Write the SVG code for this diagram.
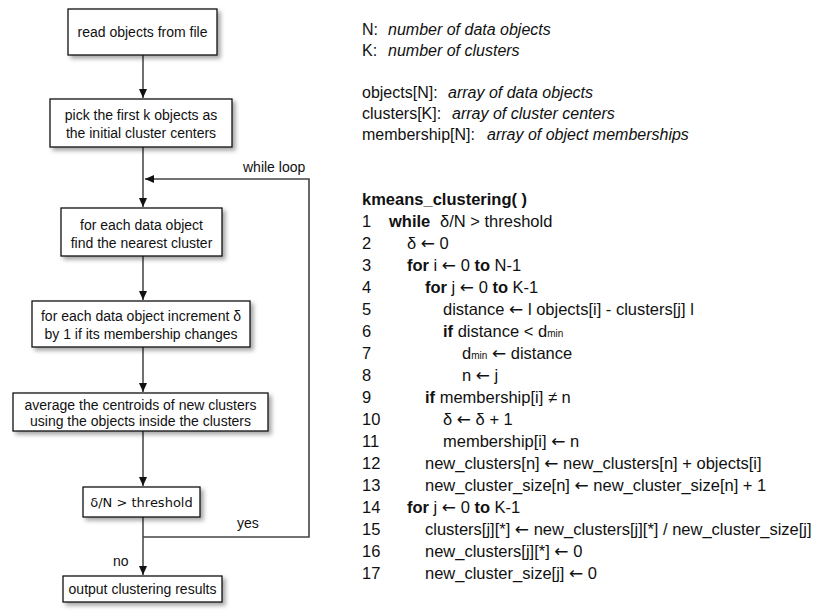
<svg xmlns="http://www.w3.org/2000/svg" width="819" height="613" viewBox="0 0 819 613">
<defs>
<filter id="sh" x="-10%" y="-20%" width="130%" height="160%">
<feDropShadow dx="3" dy="3" stdDeviation="2" flood-color="#000" flood-opacity="0.35"/>
</filter>
<marker id="ah" markerUnits="userSpaceOnUse" markerWidth="10" markerHeight="8" refX="9" refY="4" orient="auto">
<path d="M0,0 L9,4 L0,8 z" fill="#111"/>
</marker>
</defs>
<style>
.box{fill:#fff;stroke:#111;stroke-width:1.3;filter:url(#sh)}
.ft{font-family:"Liberation Sans",Arial,sans-serif;font-size:14px;fill:#111;text-anchor:middle}
.dv{font-family:"DejaVu Sans",sans-serif;font-size:13px;fill:#111;text-anchor:middle}
.lbl{font-family:"Liberation Sans",Arial,sans-serif;font-size:14px;fill:#111}
.cn{fill:none;stroke:#111;stroke-width:1.2}
.lp{fill:none;stroke:#444;stroke-width:1.6}
.tx{font-family:"Liberation Sans",Arial,sans-serif;font-size:16px;fill:#111}
.cd{font-family:"Liberation Sans",Arial,sans-serif;font-size:16.5px;fill:#111}
.it{font-style:italic}
.b{font-weight:bold}
.sub{font-size:10px}
.ar{font-family:"DejaVu Sans",sans-serif;font-size:17px}
</style>
<rect width="819" height="613" fill="#fff"/>
<g id="connectors">
<line class="cn" x1="143" y1="55" x2="143" y2="98" marker-end="url(#ah)"/>
<line class="cn" x1="143" y1="147" x2="143" y2="207" marker-end="url(#ah)"/>
<line class="cn" x1="143" y1="256" x2="143" y2="300" marker-end="url(#ah)"/>
<line class="cn" x1="143" y1="347" x2="143" y2="392" marker-end="url(#ah)"/>
<line class="cn" x1="143" y1="431" x2="143" y2="486" marker-end="url(#ah)"/>
<line class="cn" x1="143" y1="517" x2="143" y2="575" marker-end="url(#ah)"/>
<polyline class="lp" points="143,537 309,537 309,179 145,179" marker-end="url(#ah)"/>
<text class="lbl" x="243" y="172">while loop</text>
<text class="lbl" x="237" y="528">yes</text>
<text class="lbl" x="113" y="566">no</text>
</g>
<g id="n1">
<rect class="box" x="68" y="9" width="149" height="46"/>
<text class="ft" x="142.5" y="37">read objects from file</text>
</g>
<g id="n2">
<rect class="box" x="50" y="99" width="182" height="48"/>
<text class="ft" x="141" y="120">pick the first k objects as</text>
<text class="ft" x="141" y="138">the initial cluster centers</text>
</g>
<g id="n3">
<rect class="box" x="61" y="208" width="161" height="48"/>
<text class="ft" x="141.5" y="230">for each data object</text>
<text class="ft" x="141.5" y="248">find the nearest cluster</text>
</g>
<g id="n4">
<rect class="box" x="32" y="301" width="218" height="46"/>
<text class="ft" x="141" y="321">for each data object increment δ</text>
<text class="ft" x="141" y="339">by 1 if its membership changes</text>
</g>
<g id="n5">
<rect class="box" x="13" y="393" width="255" height="38"/>
<text class="ft" x="140.5" y="410">average the centroids of new clusters</text>
<text class="ft" x="140.5" y="426">using the objects inside the clusters</text>
</g>
<g id="n6">
<rect class="box" x="83" y="487" width="117" height="30"/>
<text class="dv" x="141.5" y="507">δ/N &gt; threshold</text>
</g>
<g id="n7">
<rect class="box" x="63" y="576" width="159" height="26"/>
<text class="ft" x="142.5" y="594">output clustering results</text>
</g>
<g id="legend">
<text class="tx" x="362" y="35">N:</text><text class="tx it" x="388" y="35">number of data objects</text>
<text class="tx" x="362" y="56">K:</text><text class="tx it" x="388" y="56">number of clusters</text>
<text class="tx" x="362" y="98">objects[N]:</text><text class="tx it" x="448" y="98">array of data objects</text>
<text class="tx" x="362" y="119">clusters[K]:</text><text class="tx it" x="452" y="119">array of cluster centers</text>
<text class="tx" x="362" y="140">membership[N]:</text><text class="tx it" x="487" y="140">array of object memberships</text>
</g>
<g id="code">
<text class="cd b" x="362" y="205">kmeans_clustering( )</text>
<text class="cd" x="362" y="227">1</text><text class="cd" x="389" y="227"><tspan class="b">while</tspan><tspan x="440">δ/N &gt; threshold</tspan></text>
<text class="cd" x="362" y="249">2</text><text class="cd" x="407" y="249">δ <tspan class="ar">←</tspan> 0</text>
<text class="cd" x="362" y="271">3</text><text class="cd" x="407" y="271"><tspan class="b">for</tspan> i <tspan class="ar">←</tspan> 0 <tspan class="b">to</tspan> N-1</text>
<text class="cd" x="362" y="293">4</text><text class="cd" x="425" y="293"><tspan class="b">for</tspan> j <tspan class="ar">←</tspan> 0 <tspan class="b">to</tspan> K-1</text>
<text class="cd" x="362" y="315">5</text><text class="cd" x="443" y="315">distance <tspan class="ar">←</tspan> l objects[i] - clusters[j] l</text>
<text class="cd" x="362" y="337">6</text><text class="cd" x="443" y="337"><tspan class="b">if</tspan> distance &lt; d<tspan class="sub">min</tspan></text>
<text class="cd" x="362" y="359">7</text><text class="cd" x="462" y="359">d<tspan class="sub">min</tspan> <tspan class="ar">←</tspan> distance</text>
<text class="cd" x="362" y="381">8</text><text class="cd" x="462" y="381">n <tspan class="ar">←</tspan> j</text>
<text class="cd" x="362" y="403">9</text><text class="cd" x="425" y="403"><tspan class="b">if</tspan> membership[i] ≠ n</text>
<text class="cd" x="362" y="425">10</text><text class="cd" x="443" y="425">δ <tspan class="ar">←</tspan> δ + 1</text>
<text class="cd" x="362" y="447">11</text><text class="cd" x="443" y="447">membership[i] <tspan class="ar">←</tspan> n</text>
<text class="cd" x="362" y="469">12</text><text class="cd" x="425" y="469">new_clusters[n] <tspan class="ar">←</tspan> new_clusters[n] + objects[i]</text>
<text class="cd" x="362" y="491">13</text><text class="cd" x="425" y="491">new_cluster_size[n] <tspan class="ar">←</tspan> new_cluster_size[n] + 1</text>
<text class="cd" x="362" y="513">14</text><text class="cd" x="407" y="513"><tspan class="b">for</tspan> j <tspan class="ar">←</tspan> 0 <tspan class="b">to</tspan> K-1</text>
<text class="cd" x="362" y="535">15</text><text class="cd" x="425" y="535">clusters[j][*] <tspan class="ar">←</tspan> new_clusters[j][*] / new_cluster_size[j]</text>
<text class="cd" x="362" y="557">16</text><text class="cd" x="425" y="557">new_clusters[j][*] <tspan class="ar">←</tspan> 0</text>
<text class="cd" x="362" y="579">17</text><text class="cd" x="425" y="579">new_cluster_size[j] <tspan class="ar">←</tspan> 0</text>
</g>
</svg>
